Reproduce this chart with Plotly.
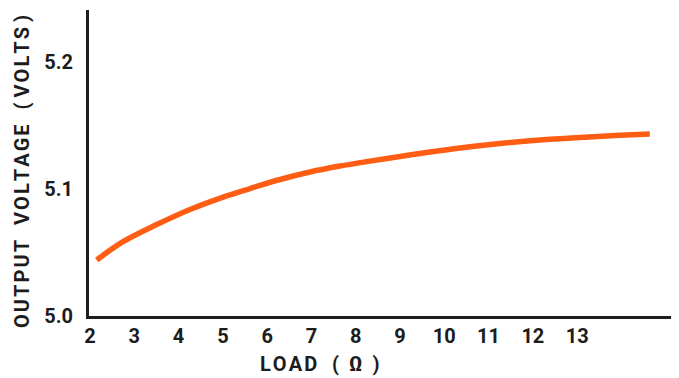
import plotly.graph_objects as go

# Data
load_ohm = [2.151, 2.745, 3.506, 4.257, 5.009, 5.612, 6.289, 6.966, 7.643,
            8.321, 8.998, 9.675, 10.352, 11.255, 12.158, 13.061, 13.964, 14.641]
output_volts = [5.0441, 5.0585, 5.0720, 5.0839, 5.0937, 5.1004, 5.1075, 5.1134,
                5.1181, 5.1220, 5.1256, 5.1291, 5.1323, 5.1358, 5.1386, 5.1406,
                5.1423, 5.1433]
x_ticks = [2, 3, 4, 5, 6, 7, 8, 9, 10, 11, 12, 13]
x_tick_labels = ["2", "3", "4", "5", "6", "7", "8", "9", "10", "11", "12", "13"]
y_ticks = [5.0, 5.1, 5.2]
y_tick_labels = ["5.0", "5.1", "5.2"]

NB = "\u00a0"
HS = "\u200a"
FONT = dict(family="Roboto", size=20, color="#1c1c1c", weight="bold")


def spaced(word):
    return HS.join(word)


# page body has an 8px margin: size the figure so the picture lands in place
OFF = 8
W, H = 679 - OFF, 378 - OFF
L, R, T, B = 89 - OFF, 0, 10 - OFF, 62
pw, ph = W - L - R, H - T - B  # 590 x 306


def px_x(sx):
    return (sx - 89) / pw


def px_y(sy):
    return (316 - sy) / ph


fig = go.Figure()
fig.add_trace(go.Scatter(
    x=load_ohm, y=output_volts, mode="lines",
    line=dict(color="#ff5c14", width=5.5, shape="spline"),
    hoverinfo="skip", showlegend=False,
))

fig.update_layout(
    width=W, height=H,
    margin=dict(l=L, r=R, t=T, b=B, autoexpand=False),
    paper_bgcolor="white", plot_bgcolor="white",
    font=FONT,
    xaxis=dict(
        range=[1.977, 15.30], tickvals=x_ticks, ticktext=x_tick_labels,
        showgrid=False, zeroline=False, showline=True,
        linecolor="#1e1e1e", linewidth=3, ticks="", ticklen=0,
        ticklabelstandoff=0, tickfont=FONT, automargin=False,
    ),
    yaxis=dict(
        range=[5.0, 5.241], tickvals=y_ticks, ticktext=y_tick_labels,
        showgrid=False, zeroline=False, showline=True,
        linecolor="#1e1e1e", linewidth=3, ticks="", ticklen=0,
        ticklabelstandoff=9, tickfont=FONT, automargin=False,
    ),
    annotations=[
        dict(
            text=spaced("OUTPUT") + NB * 3 + spaced("VOLTAGE") + NB * 3 + "("
                 + NB + spaced("VOLTS") + NB + ")",
            xref="paper", yref="paper",
            x=px_x(22), y=px_y(172),
            xanchor="center", yanchor="middle", textangle=-90,
            showarrow=False, font=FONT,
        ),
        dict(
            text=spaced("LOAD") + NB * 3 + "(" + NB * 2 + "Ω" + NB * 2 + ")",
            xref="paper", yref="paper",
            x=px_x(319), y=px_y(364),
            xanchor="center", yanchor="middle",
            showarrow=False, font=FONT,
        ),
    ],
)

fig.write_html("out.html")
